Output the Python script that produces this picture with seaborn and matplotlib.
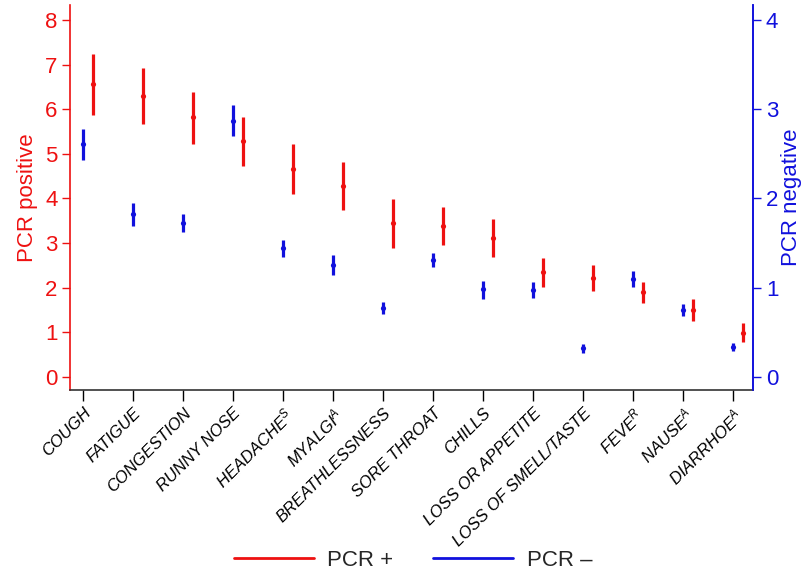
import matplotlib
matplotlib.use("Agg")
import matplotlib.pyplot as plt
from matplotlib.lines import Line2D
import seaborn as sns
import numpy as np
import pandas as pd

categories = ["COUGH", "FATIGUE", "CONGESTION", "RUNNY NOSE", "HEADACHE$^{\\mathrm{S}}$",
              "MYALGI$^{\\mathrm{A}}$", "BREATHLESSNESS", "SORE THROAT", "CHILLS",
              "LOSS OR APPETITE", "LOSS OF SMELL/TASTE", "FEVE$^{\\mathrm{R}}$",
              "NAUSE$^{\\mathrm{A}}$", "DIARRHOE$^{\\mathrm{A}}$"]

pos_mean = [6.56, 6.30, 5.82, 5.29, 4.66, 4.29, 3.44, 3.38, 3.11, 2.35, 2.22, 1.90, 1.50, 0.99]
pos_low  = [5.87, 5.68, 5.22, 4.73, 4.10, 3.74, 2.89, 2.95, 2.69, 2.02, 1.93, 1.65, 1.26, 0.77]
pos_high = [7.24, 6.92, 6.40, 5.83, 5.22, 4.82, 3.98, 3.80, 3.53, 2.66, 2.51, 2.13, 1.74, 1.20]

neg_mean = [2.61, 1.82, 1.73, 2.87, 1.44, 1.25, 0.77, 1.31, 0.98, 0.97, 0.32, 1.10, 0.75, 0.33]
neg_low  = [2.43, 1.69, 1.62, 2.70, 1.34, 1.14, 0.70, 1.23, 0.87, 0.88, 0.27, 1.01, 0.68, 0.29]
neg_high = [2.78, 1.95, 1.83, 3.05, 1.53, 1.36, 0.84, 1.39, 1.07, 1.06, 0.37, 1.19, 0.82, 0.38]

sns.set_theme(style="white")
plt.rcParams['font.family'] = ['Liberation Sans', 'DejaVu Sans']
plt.rcParams['mathtext.fontset'] = 'custom'
plt.rcParams['mathtext.rm'] = 'Liberation Sans:italic'
plt.rcParams['mathtext.it'] = 'Liberation Sans:italic'

RED = "#ee1111"
BLUE = "#1111dd"

x = np.arange(len(categories))
df_pos = pd.DataFrame({"x": x + 0.2, "y": pos_mean})
df_neg = pd.DataFrame({"x": x.astype(float), "y": neg_mean})

fig = plt.figure(figsize=(8.02, 5.71), dpi=100)
ax = fig.add_axes([0.0873, 0.317, 0.852, 0.674])
ax2 = ax.twinx()

# PCR + on left axis
ax.vlines(df_pos["x"], pos_low, pos_high, color=RED, lw=2.3, zorder=3)
sns.scatterplot(data=df_pos, x="x", y="y", ax=ax, color=RED, s=14, edgecolor=RED,
                linewidth=0, zorder=4, legend=False)
# PCR - on right axis
ax2.vlines(df_neg["x"], neg_low, neg_high, color=BLUE, lw=2.3, zorder=3)
sns.scatterplot(data=df_neg, x="x", y="y", ax=ax2, color=BLUE, s=14, edgecolor=BLUE,
                linewidth=0, zorder=4, legend=False)

ax.set_xlim(-0.26, 13.4)
ax.set_ylim(-0.30, 8.34)
ax2.set_ylim(-0.15, 4.17)

ax.set_xticks(x)
ax.set_xticklabels(categories, rotation=45, ha="right", rotation_mode="anchor",
                   fontsize=12, style="italic")
ax.set_yticks(range(0, 9))
ax2.set_yticks(range(0, 5))
ax.set_xlabel("")
ax.set_ylabel("PCR positive", color=RED, fontsize=16, labelpad=5)
ax2.set_ylabel("PCR negative", color=BLUE, fontsize=16, labelpad=2)
ax2.set_xlabel("")

ax.tick_params(axis="y", colors=RED, labelsize=16, length=6, width=1, direction="out", left=True, pad=3)
ax.tick_params(axis="x", colors="black", labelsize=12, length=8, width=1, direction="out",
               bottom=True, pad=3)
ax2.tick_params(axis="y", colors=BLUE, labelsize=16, length=6, width=1, direction="out", right=True, pad=3)

for a in (ax, ax2):
    a.spines["top"].set_visible(False)
    a.spines["left"].set_color(RED)
    a.spines["right"].set_color(BLUE)
    a.spines["bottom"].set_color("#333333")
    for s in a.spines.values():
        s.set_linewidth(1.2)
ax2.spines["left"].set_visible(False)
ax2.spines["bottom"].set_visible(False)

handles = [Line2D([0], [0], color=RED, lw=2), Line2D([0], [0], color=BLUE, lw=2)]
fig.legend(handles, ["PCR +", "PCR \u2013"], loc="lower center", ncol=2, frameon=False,
           fontsize=16, handlelength=3.6, handletextpad=0.6, columnspacing=1.8,
           bbox_to_anchor=(0.515, -0.035))

fig.savefig("out.png", dpi=100)
